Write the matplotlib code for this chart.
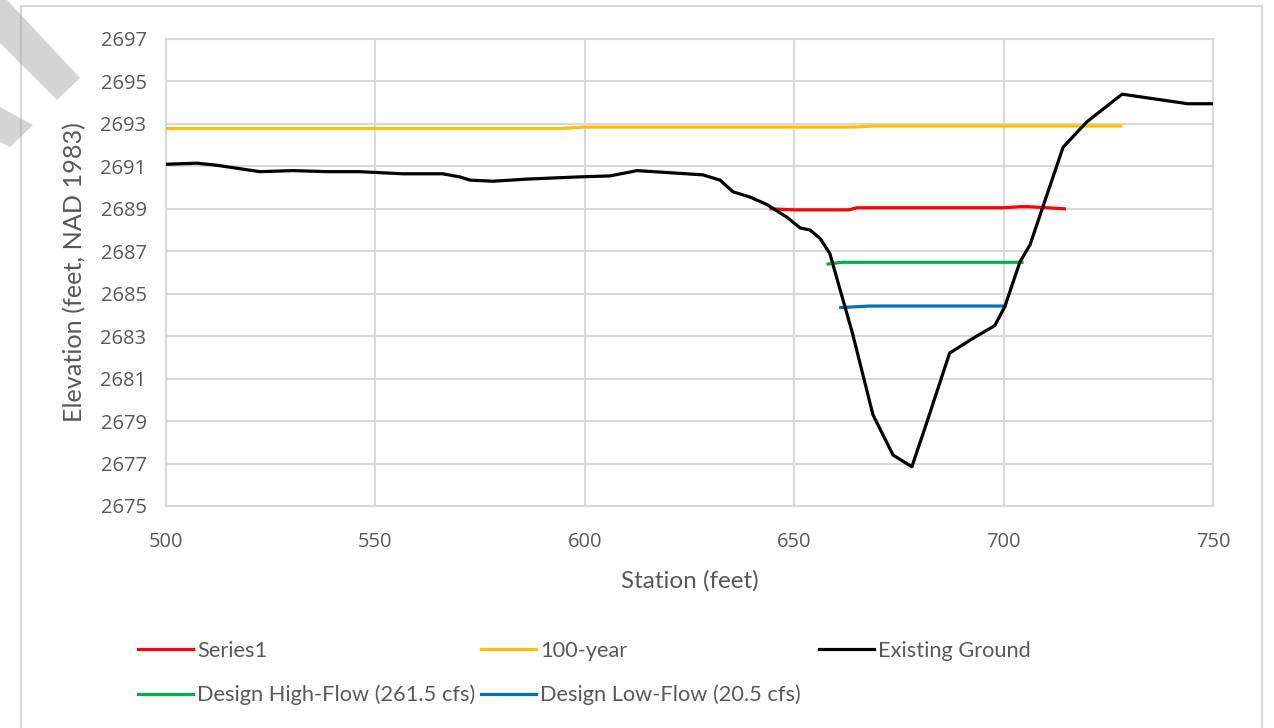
import matplotlib
matplotlib.use("Agg")
import matplotlib.pyplot as plt
from matplotlib.patches import Polygon, Rectangle

# Existing ground profile (station ft, elevation ft)
ground_x = [500.2, 507.4, 512.2, 522.4, 530.3, 538.4, 546.3, 556.6, 566.1, 570.2,
            572.6, 578.1, 586.2, 598.1, 606.0, 612.5, 628.2, 632.3, 635.4, 639.5,
            643.5, 648.3, 651.4, 653.8, 656.2, 658.5, 660.8, 663.9, 668.8, 673.6,
            678.1, 681.6, 687.1, 692.7, 697.9, 700.3, 703.9, 706.3, 714.2, 719.9,
            728.3, 744.0, 750.0]
ground_y = [2691.1, 2691.15, 2691.05, 2690.75, 2690.8, 2690.75, 2690.75, 2690.65, 2690.65, 2690.5,
            2690.35, 2690.3, 2690.4, 2690.5, 2690.55, 2690.8, 2690.6, 2690.35, 2689.8, 2689.55,
            2689.2, 2688.6, 2688.1, 2688.0, 2687.6, 2686.9, 2685.3, 2683.15, 2679.3, 2677.4,
            2676.85, 2678.9, 2682.2, 2682.9, 2683.5, 2684.4, 2686.5, 2687.3, 2691.9, 2693.1,
            2694.4, 2693.95, 2693.95]

series1_x = [644.5, 650.0, 663.0, 665.0, 700.0, 704.0, 706.0, 714.5]
series1_y = [2689.0, 2688.95, 2688.95, 2689.05, 2689.05, 2689.1, 2689.1, 2689.0]

year100_x = [500.0, 594.0, 600.0, 664.0, 669.0, 728.0]
year100_y = [2692.78, 2692.78, 2692.85, 2692.85, 2692.9, 2692.9]

high_x = [658.1, 661.4, 704.4]
high_y = [2686.4, 2686.48, 2686.48]

low_x = [661.1, 668.1, 700.3]
low_y = [2684.35, 2684.42, 2684.42]

x_ticks = list(range(500, 751, 50))
y_ticks = list(range(2675, 2698, 2))

grid_col = "#d9d9d9"
text_col = "#595959"

fig = plt.figure(figsize=(12.74, 7.28), dpi=100)
W, H = 1274, 728

# chart border
fig.patches.append(Rectangle((21 / W, -0.05), (1262 - 21) / W, 1.05 - 6 / H,
                             transform=fig.transFigure, fill=False,
                             edgecolor=grid_col, linewidth=1.5))

ax = fig.add_axes([166 / W, 1 - 506 / H, (1213 - 166) / W, (506 - 39) / H])

lw = 2.3
l1, = ax.plot(series1_x, series1_y, color="#ff0000", lw=lw, label="Series1", zorder=3)
l2, = ax.plot(year100_x, year100_y, color="#ffc000", lw=lw, label="100-year", zorder=3)
l3, = ax.plot(ground_x, ground_y, color="#000000", lw=lw, label="Existing Ground", zorder=4)
l4, = ax.plot(high_x, high_y, color="#00b050", lw=lw, label="Design High-Flow (261.5 cfs)", zorder=3)
l5, = ax.plot(low_x, low_y, color="#0070c0", lw=lw, label="Design Low-Flow (20.5 cfs)", zorder=3)

ax.set_xlim(500, 750)
ax.set_ylim(2675, 2697)
ax.set_xticks(x_ticks)
ax.set_yticks(y_ticks)
ax.grid(True, color=grid_col, linewidth=1.5)
ax.set_axisbelow(True)
for s in ax.spines.values():
    s.set_color(grid_col)
    s.set_linewidth(1.5)
ax.tick_params(length=0, colors=text_col, labelsize=14.5)
ax.tick_params(axis="y", pad=14)
ax.tick_params(axis="x", pad=19)
for lab in ax.get_xticklabels() + ax.get_yticklabels():
    lab.set_family("Open Sans")

ax.set_xlabel("Station (feet)", fontsize=17.5, color=text_col, family="Lato", labelpad=13)
ax.set_ylabel("Elevation (feet, NAD 1983)", fontsize=18.2, color=text_col, family="Lato", labelpad=10)

# legend entries, Excel-style placement (handle start x, row centre y in pixels)
legend_pos = [(l1, 138, 651), (l2, 481, 651), (l3, 819, 651),
              (l4, 138, 695), (l5, 481, 695)]
for h, px, py in legend_pos:
    fig.legend([h], [h.get_label()], loc="center left",
               bbox_to_anchor=(px / W, 1 - py / H), frameon=False,
               prop={"family": "Lato", "size": 15.7}, labelcolor=text_col,
               handlelength=2.5, handletextpad=0.2, borderpad=0, borderaxespad=0)

# faint diagonal watermark bands in the top-left corner
band1 = [(0, 0), (7, 0), (80, 78), (57, 100), (0, 43)]
band2 = [(0, 107), (33, 125), (10, 147), (0, 142)]
for band in (band1, band2):
    pts = [(px / W, 1 - py / H) for px, py in band]
    fig.patches.append(Polygon(pts, closed=True, transform=fig.transFigure,
                               facecolor="#a0a0a0", edgecolor="none", alpha=0.45, zorder=10))

fig.savefig("out.png", dpi=100)
